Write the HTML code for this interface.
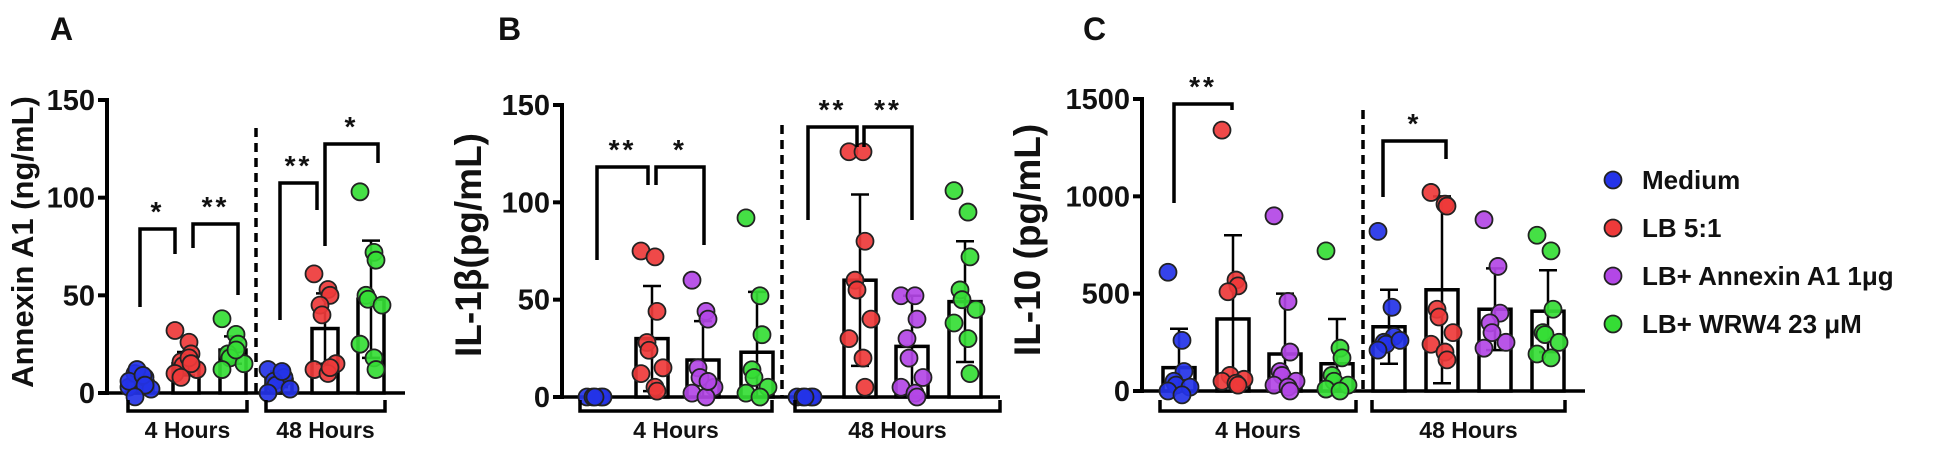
<!DOCTYPE html>
<html><head><meta charset="utf-8"><style>
html,body{margin:0;padding:0;background:#fff;width:1949px;height:451px;overflow:hidden}
svg text{font-family:"Liberation Sans",Arial,sans-serif;font-weight:bold;fill:#111}
</style></head><body>
<svg id="chart" width="1949" height="451" viewBox="0 0 1949 451" xmlns="http://www.w3.org/2000/svg"></svg>
<script>
const groupNames = ["Medium","LB 5:1","LB+ Annexin A1 1\u03bcg","LB+ WRW4 23 \u03bcM"];
const groupColors = ["#2433e8","#ee3a3a","#b347e6","#35dd35"];
// Panel A (Annexin A1, ng/mL): groups Medium, LB, WRW4
const aTicks = [0,50,100,150];
const aGroups4h = [0,1,3];
const aGroups48h = [0,1,3];
const aMeans4h = [6,15,22];
const aSD4h = [3,6,7];
const aPoints4h = [[3,5,8,10,12,2,6,9,4,-2],[32,26,20,16,14,12,10,18,15,8],[38,30,25,20,18,15,12,22]];
const aMeans48h = [7,33,48];
const aSD48h = [4,18,30];
const aPoints48h = [[12,10,8,6,4,2,0,11],[61,53,50,45,40,15,12,10,13],[103,72,68,50,48,45,25,18,12]];
// Panel B (IL-1β, pg/mL)
const bTicks = [0,50,100,150];
const bMeans4h = [0,30,19,23];
const bSD4h = [0,27,20,31];
const bPoints4h = [[0,0,0,0,0],[75,72,44,28,24,15,12,5,3],[60,44,40,15,10,5,2,0,8],[92,52,32,14,10,5,2,0]];
const bMeans48h = [0,60,26,49];
const bSD48h = [0,44,26,31];
const bPoints48h = [[0,0,0,0,0],[126,126,80,60,55,40,30,20,5],[52,52,40,30,20,10,5,2,0],[106,95,72,55,50,45,38,30,12]];
// Panel C (IL-10, pg/mL)
const cTicks = [0,500,1000,1500];
const cMeans4h = [120,370,190,140];
const cSD4h = [200,430,310,230];
const cPoints4h = [[610,260,100,50,30,20,0,-20],[1340,570,540,510,80,60,50,40,30],[900,460,200,100,80,50,30,20,0],[720,220,170,80,50,30,10,0]];
const cMeans48h = [330,520,420,410];
const cSD48h = [190,480,210,210];
const cPoints48h = [[820,430,280,250,240,260,210],[1020,960,950,420,380,300,240,200,160],[880,640,400,350,300,250,220],[800,720,420,300,290,250,190,170]];

const svg=document.getElementById('chart');
const NS='http://www.w3.org/2000/svg';
function mk(tag,attrs,parent,txt){const e=document.createElementNS(NS,tag);for(const k in attrs)e.setAttribute(k,attrs[k]);if(txt!==undefined)e.textContent=txt;(parent||svg).appendChild(e);return e;}

function panel(cfg){
  const g=mk('g',{});
  
  
  const y=v=>cfg.y0-(v-cfg.vmin)/(cfg.vmax-cfg.vmin)*(cfg.y0-cfg.y1);
  const ax=mk('line',{x1:cfg.ax,y1:y(cfg.vmax)-2,x2:cfg.ax,y2:y(0)+2,stroke:'#000','stroke-width':4},g);
  
  
  const base=mk('line',{x1:cfg.ax,y1:y(0),x2:cfg.axEnd,y2:y(0),stroke:'#000','stroke-width':3.5},g);
  
  
  cfg.ticks.forEach(t=>{
    mk('line',{x1:cfg.ax-9,y1:y(t),x2:cfg.ax,y2:y(t),stroke:'#000','stroke-width':4},g);
    const tl=mk('text',{x:cfg.ax-12,y:y(t)+10,'text-anchor':'end','font-size':29},g,String(t));
    
    
  });
  const yt=mk('text',{x:0,y:0,'text-anchor':'middle','font-size':cfg.tfs,transform:`translate(${cfg.tx},${cfg.ty}) rotate(-90)`},g,cfg.title);
  
  
  const lt=mk('text',{x:cfg.lx,y:40,'font-size':32},g,cfg.letter);
  
  
  const dv=mk('line',{x1:cfg.dash,y1:cfg.dashTop,x2:cfg.dash,y2:y(0),stroke:'#000','stroke-width':3.5,'stroke-dasharray':'9,6'},g);
  
  
  const sets=[[cfg.x4,cfg.m4,cfg.s4,cfg.p4,cfg.g],[cfg.x48,cfg.m48,cfg.s48,cfg.p48,cfg.g]];
  sets.forEach(([xs,ms,ss,ps,gi],si)=>{
    xs.forEach((cx,i)=>{
      const col=groupColors[gi[i]];
      const m=ms[i],s=ss[i];
      const bw=cfg.bw;
      if(m>0){
        const b=mk('rect',{x:cx-bw/2,y:y(m),width:bw,height:y(0)-y(m),fill:'#fff',stroke:'#000','stroke-width':3.5},g);
        
        
      }
      if(s>0){
        mk('line',{x1:cx,y1:y(m+s),x2:cx,y2:y(Math.max(m-s,0)),stroke:'#000','stroke-width':2.5},g);
        mk('line',{x1:cx-9,y1:y(m+s),x2:cx+9,y2:y(m+s),stroke:'#000','stroke-width':2.5},g);
        if(m-s>0)mk('line',{x1:cx-9,y1:y(m-s),x2:cx+9,y2:y(m-s),stroke:'#000','stroke-width':2.5},g);
      }
      ps[i].forEach((v,k)=>{
        const off=((k%3)-1)*8+((k%2)?3:-3);
        const c=mk('circle',{cx:cx+off,cy:y(v),r:8.5,fill:col,stroke:'#222','stroke-width':1.8,'fill-opacity':0.92},g);
        
        
      });
    });
  });
  cfg.brk.forEach(b=>{
    const p=mk('path',{d:`M${b[0]},400 V411 H${b[1]} V400`,fill:'none',stroke:'#000','stroke-width':3.5},g);
    
    
    const t=mk('text',{x:(b[0]+b[1])/2,y:438,'text-anchor':'middle','font-size':23},g,b[2]);
    
    
  });
  cfg.sig.forEach(s=>{
    const p=mk('path',{d:`M${s[0]},${s[3]} V${s[2]} H${s[1]} V${s[4]}`,fill:'none',stroke:'#000','stroke-width':3.5},g);
    
    
    const t=mk('text',{x:(s[0]+s[1])/2,y:s[2]-8,'text-anchor':'middle','font-size':28,'letter-spacing':'3'},g,s[5]);
    
    
  });
}

panel({name:'panel-a',letter:'A',lx:50,ax:107,axEnd:405,y0:393,y1:100,vmin:0,vmax:150,ticks:aTicks,
  title:'Annexin A1 (ng/mL)',tfs:31,tx:33,ty:242,dash:256,dashTop:128,bw:26,
  x4:[140,186,233],m4:aMeans4h,s4:aSD4h,p4:aPoints4h,g:aGroups4h,
  x48:[279,325,371],m48:aMeans48h,s48:aSD48h,p48:aPoints48h,
  brk:[[128,247,'4 Hours'],[266,385,'48 Hours']],
  sig:[[140,175,229,307,254,'*'],[193,238,224,248,295,'**'],[280,317,183,320,210,'**'],[325,378,144,246,163,'*']]});

panel({name:'panel-b',letter:'B',lx:498,ax:562,axEnd:1000,y0:397,y1:105,vmin:0,vmax:150,ticks:bTicks,
  title:'IL-1\u03b2(pg/mL)',tfs:37,tx:481,ty:245,dash:782,dashTop:125,bw:32,
  x4:[598,652,703,757],m4:bMeans4h,s4:bSD4h,p4:bPoints4h,g:[0,1,2,3],
  x48:[808,860,912,965],m48:bMeans48h,s48:bSD48h,p48:bPoints48h,
  brk:[[580,772,'4 Hours'],[795,1000,'48 Hours']],
  sig:[[597,648,167,260,185,'**'],[656,704,167,185,245,'*'],[808,857,127,220,147,'**'],[864,912,127,147,220,'**']]});

panel({name:'panel-c',letter:'C',lx:1083,ax:1142,axEnd:1585,y0:391,y1:99,vmin:0,vmax:1500,ticks:cTicks,
  title:'IL-10 (pg/mL)',tfs:37,tx:1040,ty:240,dash:1363,dashTop:110,bw:32,
  x4:[1179,1233,1285,1337],m4:cMeans4h,s4:cSD4h,p4:cPoints4h,g:[0,1,2,3],
  x48:[1389,1442,1495,1548],m48:cMeans48h,s48:cSD48h,p48:cPoints48h,
  brk:[[1160,1356,'4 Hours'],[1372,1565,'48 Hours']],
  sig:[[1174,1232,104,203,110,'**'],[1383,1446,141,197,159,'*']]});

groupNames.forEach((n,i)=>{
  const yy=189+i*48;
  const c=mk('circle',{cx:1613,cy:yy-9,r:8.5,fill:groupColors[i],stroke:'#222','stroke-width':1.8});
  
  
  const t=mk('text',{x:1642,y:yy,'font-size':26},svg,n);
  
  
});
</script>
</body></html>
